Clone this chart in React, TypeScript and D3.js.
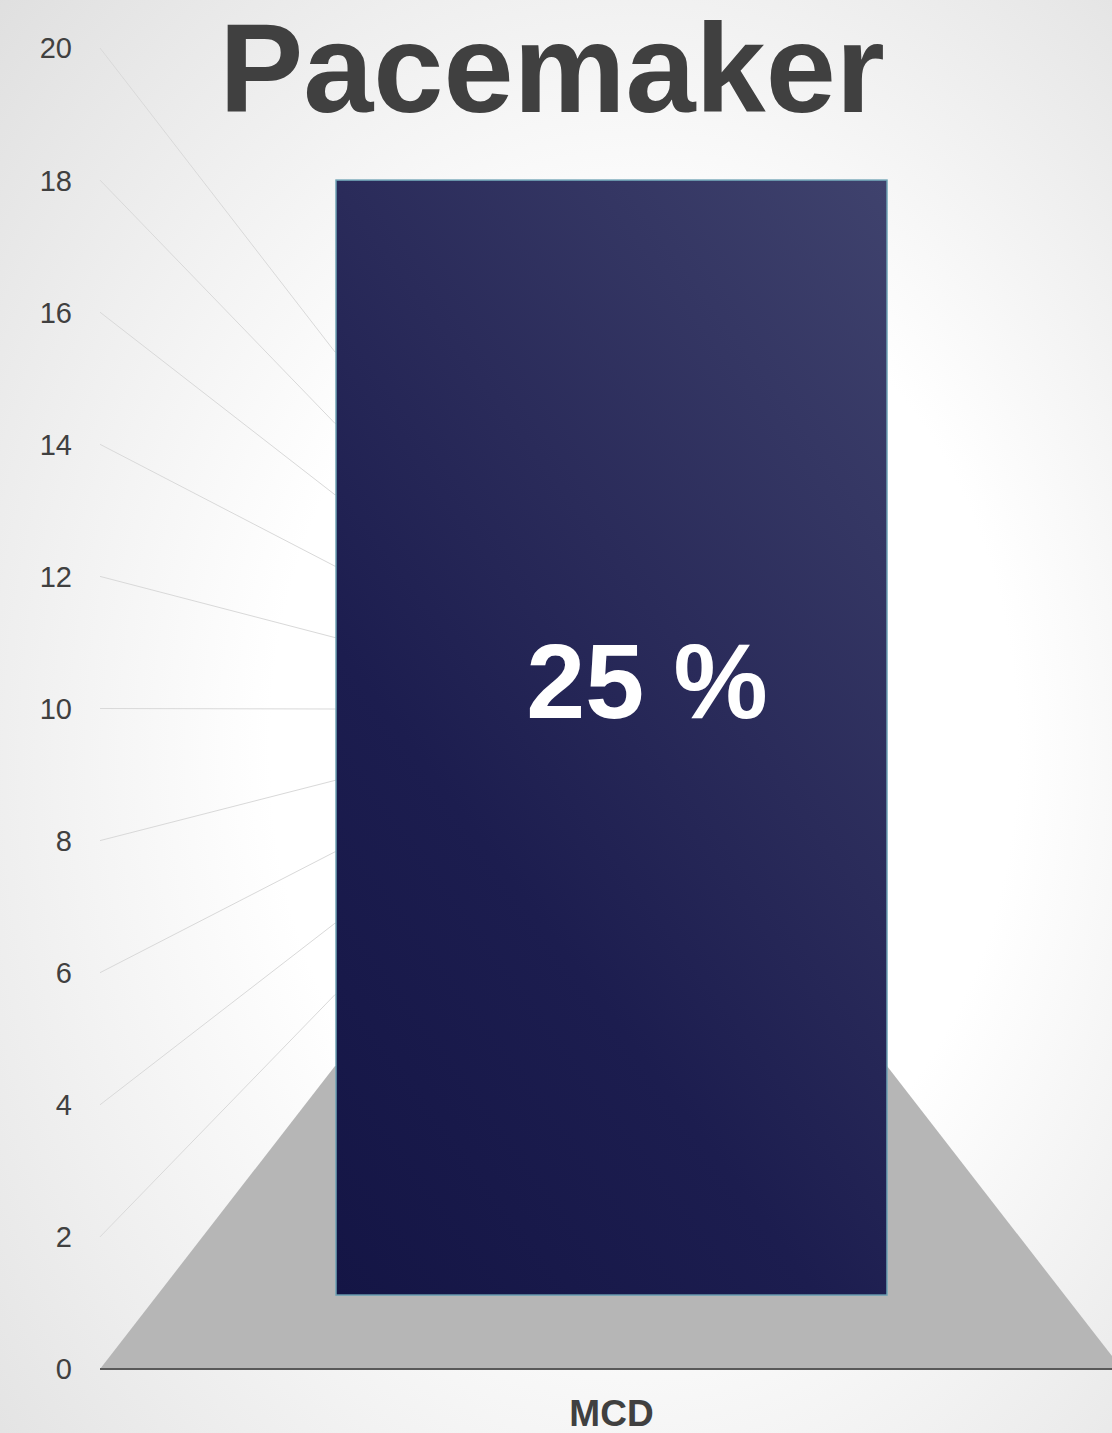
import React from "react";
import * as d3 from "d3";

const title = "Pacemaker";
const categories = ["MCD"];
const values = [18];
const valueLabels = ["25 %"];
const yTicks = [0, 2, 4, 6, 8, 10, 12, 14, 16, 18, 20];

const W = 1112;
const H = 1433;
const FONT = "'Liberation Sans', Arial, sans-serif";

export default function App() {
  const yFront = d3.scaleLinear().domain([0, 20]).range([1369, 48]);
  const yBack = d3.scaleLinear().domain([0, 20]).range([1066, 352]);
  const frontLeft = 100;
  const backLeft = 335;
  const backRight = 887;
  const frontRight = backRight + (backLeft - frontLeft);
  const x = d3.scaleBand<string>().domain(categories).range([336, 887]).padding(0);
  const depth = d3.interpolateNumber(yFront(0), yBack(0));
  const barBase = depth(0.244);

  const floorPath = d3.line()([
    [frontLeft, yFront(0)],
    [backLeft, yBack(0)],
    [backRight, yBack(0)],
    [frontRight, yFront(0)],
  ]) + "Z";

  const bx0 = x(categories[0])!;
  const gradX1 = bx0;
  const gradY1 = barBase;
  const gradX2 = bx0 + 887;
  const gradY2 = barBase - 659;

  return (
    <svg
      width={W}
      height={H}
      style={{ position: "absolute", left: 0, top: 0, display: "block" }}
      fontFamily={FONT}
    >
      <defs>
        <radialGradient id="bg" cx="0.55" cy="0.55" r="0.8" fx="0.6" fy="0.5">
          <stop offset="0" stopColor="#ffffff" />
          <stop offset="0.42" stopColor="#ffffff" />
          <stop offset="1" stopColor="#dedede" />
        </radialGradient>
        <linearGradient
          id="barGrad"
          gradientUnits="userSpaceOnUse"
          x1={gradX1}
          y1={gradY1}
          x2={gradX2}
          y2={gradY2}
        >
          <stop offset="0" stopColor="#141545" />
          <stop offset="0.35" stopColor="#1c1d4f" />
          <stop offset="0.6" stopColor="#2a2b5a" />
          <stop offset="1" stopColor="#3f426d" />
        </linearGradient>
      </defs>
      <rect x={0} y={0} width={W} height={H} fill="url(#bg)" />

      {/* floor */}
      <path d={floorPath} fill="#b6b6b6" />

      {/* perspective gridlines */}
      {yTicks.filter((t) => t > 0).map((t) => (
        <g key={t}>
          <line x1={frontLeft} y1={yFront(t)} x2={backLeft} y2={yBack(t)} stroke="#d9d9d9" strokeWidth={1} />
          <line x1={backLeft} y1={yBack(t)} x2={backRight} y2={yBack(t)} stroke="#d9d9d9" strokeWidth={1} />
        </g>
      ))}

      {/* bars */}
      {categories.map((c, i) => (
        <g key={c}>
          <rect
            x={x(c)!}
            y={yFront(values[i])}
            width={x.bandwidth()}
            height={barBase - yFront(values[i])}
            fill="url(#barGrad)"
            stroke="#6fa3b5"
            strokeWidth={1.5}
          />
          <text
            x={647}
            y={718}
            textAnchor="middle"
            fontSize={106}
            fontWeight="bold"
            fill="#ffffff"
          >
            {valueLabels[i]}
          </text>
          <text
            x={x(c)! + x.bandwidth() / 2}
            y={1426}
            textAnchor="middle"
            fontSize={37}
            fontWeight="bold"
            fill="#404040"
          >
            {c}
          </text>
        </g>
      ))}

      {/* axis line */}
      <line x1={frontLeft} y1={yFront(0)} x2={W} y2={yFront(0)} stroke="#595959" strokeWidth={2} />

      {/* y tick labels */}
      {yTicks.map((t) => (
        <text
          key={t}
          x={72}
          y={yFront(t)}
          dy="0.36em"
          textAnchor="end"
          fontSize={29}
          fill="#404040"
        >
          {t}
        </text>
      ))}

      {/* title */}
      <text x={552} y={112} textAnchor="middle" fontSize={126} fontWeight="bold" fill="#404040">
        {title}
      </text>
    </svg>
  );
}
